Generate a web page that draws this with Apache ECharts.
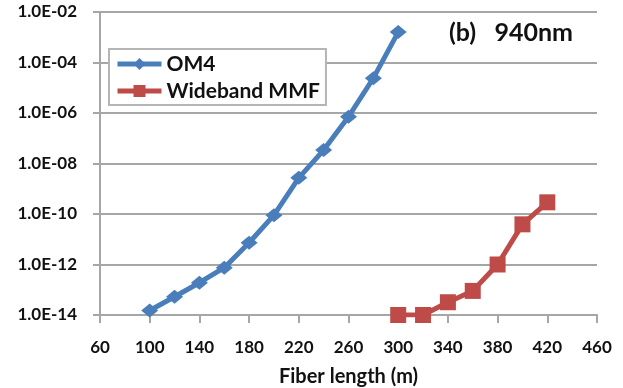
<!DOCTYPE html>
<html><head><meta charset="utf-8">
<script src="https://cdn.jsdelivr.net/npm/echarts@6/dist/echarts.min.js"></script>
<style>html,body{margin:0;padding:0;background:#fff}#c{width:623px;height:388px}</style>
</head><body><div id="c"></div>
<script>
const om4X = [100,120,140,160,180,200,220,240,260,280,300];
const om4Y = [1.5e-14,5.3e-14,1.9e-13,7.5e-13,7.3e-12,9e-11,2.7e-9,3.4e-8,7.1e-7,2.4e-5,1.6e-3];
const wbX = [300,320,340,360,380,400,420];
const wbY = [1e-14,1e-14,3.2e-14,9e-14,1e-12,3.9e-11,2.9e-10];
const seriesNames = ['OM4','Wideband MMF'];
const titleText = '(b)   940nm';
const xName = 'Fiber length (m)';

const FONT = 'Lato';
const W = 'bold';
const chart = echarts.init(document.getElementById('c'));
function fmt(v){
  const e = Math.round(Math.log10(v));
  const s = Math.abs(e) < 10 ? '0' + Math.abs(e) : '' + Math.abs(e);
  return '1.0E' + (e < 0 ? '-' : '+') + s;
}
chart.setOption({
  animation:false,
  backgroundColor:'#fff',
  textStyle:{fontFamily:FONT},
  title:{text:titleText,left:444,top:15,textStyle:{fontFamily:FONT,fontWeight:W,fontSize:25,color:'#111'}},
  legend:{
    orient:'vertical',left:109,top:49,
    backgroundColor:'#fff',borderColor:'#b5b5b5',borderWidth:2,borderRadius:0,
    padding:[4,6,3,6],itemWidth:44,itemHeight:15,itemGap:5,
    lineStyle:{width:5},
    textStyle:{fontFamily:FONT,fontWeight:W,fontSize:21,color:'#111',lineHeight:22},
    data:seriesNames
  },
  grid:{left:100,right:26,top:12,bottom:73,containLabel:false,outerBoundsMode:'none'},
  xAxis:{
    type:'value',min:60,max:460,interval:40,
    name:xName,nameLocation:'middle',nameGap:52,
    nameTextStyle:{fontFamily:FONT,fontWeight:W,fontSize:20,color:'#111'},
    axisLine:{show:true,lineStyle:{color:'#a6a6a6',width:2}},
    axisTick:{show:true,length:8,lineStyle:{color:'#a6a6a6',width:2}},
    axisLabel:{margin:24,fontFamily:FONT,fontWeight:W,fontSize:17,color:'#111'},
    splitLine:{show:false}
  },
  yAxis:{
    type:'log',logBase:100,min:1e-14,max:1e-2,
    axisLine:{show:true,lineStyle:{color:'#a6a6a6',width:2}},
    axisTick:{show:true,length:7,lineStyle:{color:'#a6a6a6',width:2}},
    minorTick:{show:false},
    axisLabel:{margin:23,fontFamily:FONT,fontWeight:W,fontSize:17,color:'#111',formatter:fmt},
    splitLine:{show:true,lineStyle:{color:'#a6a6a6',width:2}}
  },
  series:[
    {name:seriesNames[0],type:'line',data:om4X.map((x,i)=>[x,om4Y[i]]),
     color:'#4a7ebb',lineStyle:{width:5},symbol:'diamond',symbolSize:[17,14],itemStyle:{color:'#4a7ebb'}},
    {name:seriesNames[1],type:'line',data:wbX.map((x,i)=>[x,wbY[i]]),
     color:'#be4b48',lineStyle:{width:5},symbol:'rect',symbolSize:16,itemStyle:{color:'#be4b48'}}
  ]
});
</script></body></html>
